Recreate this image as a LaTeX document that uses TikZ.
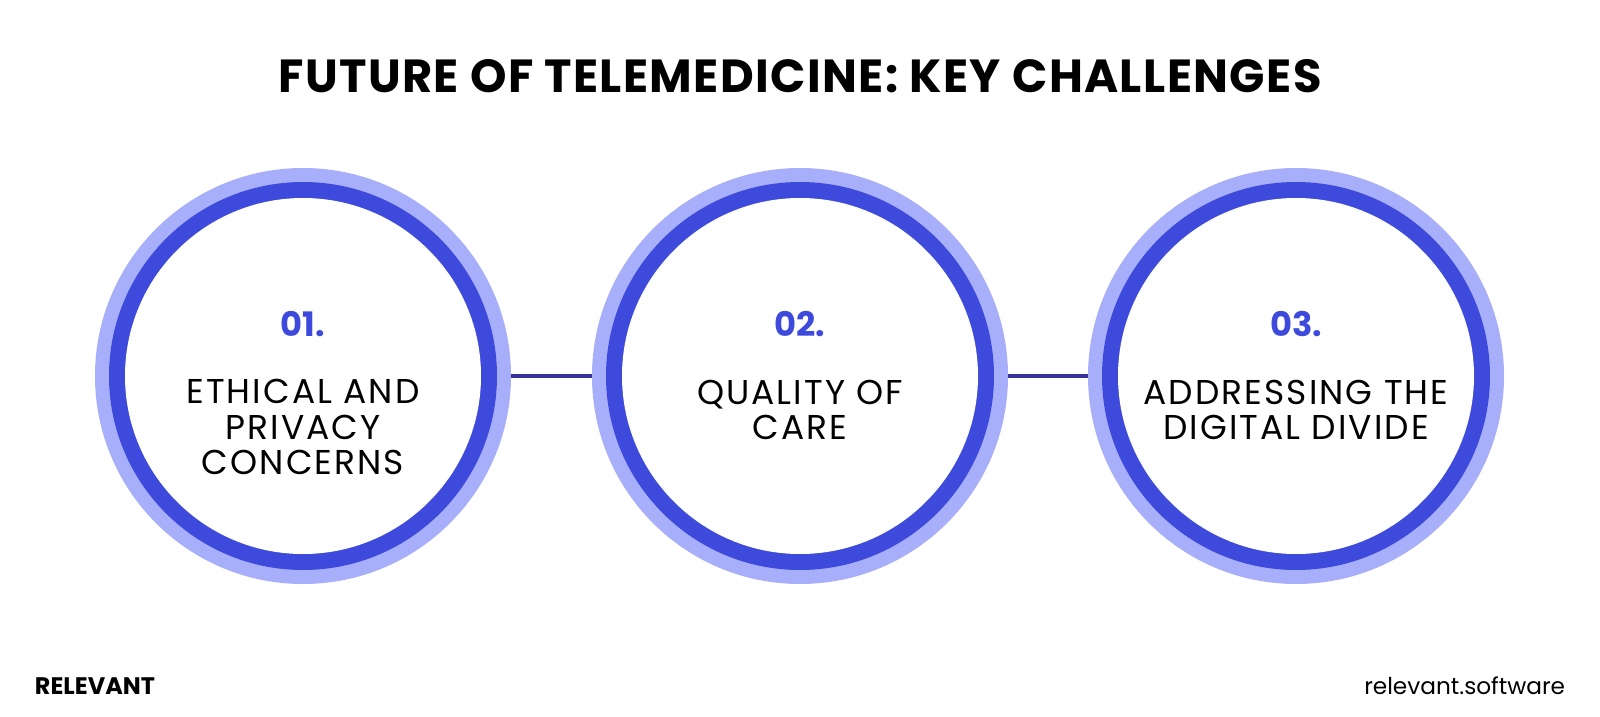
\documentclass[tikz,border=0pt]{standalone}
\usepackage{fontspec}
\setmainfont{Poppins}
\definecolor{ringlight}{HTML}{A8AFFA}
\definecolor{ringdark}{HTML}{3D4ADB}
\definecolor{linkc}{HTML}{38309A}
\tikzset{
  outerring/.style={circle,fill=ringlight,minimum size=416*0.025cm,inner sep=0,outer sep=0},
  darkring/.style={circle,fill=ringdark,minimum size=388*0.025cm,inner sep=0},
  innerdisc/.style={circle,fill=white,minimum size=356*0.025cm,inner sep=0},
  num/.style={text=ringdark,font=\fontsize{24}{28}\selectfont\bfseries},
  lab/.style={align=center,font=\fontsize{24.5}{25}\selectfont\addfontfeatures{LetterSpace=6}},
  link/.style={draw=linkc,line width=4*0.025cm}
}
\begin{document}
\begin{tikzpicture}[x=0.025cm,y=-0.025cm]
\fill[white] (0,0) rectangle (1600,717);
\node[font=\fontsize{33}{36}\selectfont\bfseries\addfontfeatures{LetterSpace=3}] (title) at (800,76) {FUTURE OF TELEMEDICINE: KEY CHALLENGES};
\foreach \n/\x in {a/303,b/800,c/1296}{
  \node[outerring] (o\n) at (\x,376) {};
  \node[darkring] (d\n) at (\x,376) {};
  \node[innerdisc] (i\n) at (\x,376) {};
}
\draw[link] (oa.east) -- (ob.west);
\draw[link] (ob.east) -- (oc.west);
\node[num] (n1) at (303,324) {01.};
\node[num] (n2) at (800,324) {02.};
\node[num] (n3) at (1296,324) {03.};
\node[lab] (t1) at (303,427) {ETHICAL AND\\PRIVACY\\CONCERNS};
\node[lab] (t2) at (800,410) {QUALITY OF\\CARE};
\node[lab] (t3) at (1296,410) {ADDRESSING THE\\DIGITAL DIVIDE};
\node[anchor=west,font=\fontsize{17}{20}\selectfont\bfseries] (logo) at (30,686) {RELEVANT};
\node[anchor=east,font=\fontsize{16.5}{20}\selectfont] (site) at (1570,686) {relevant.software};
\pgfresetboundingbox
\path[use as bounding box] (0,0) rectangle (1600,717);
\end{tikzpicture}
\end{document}
